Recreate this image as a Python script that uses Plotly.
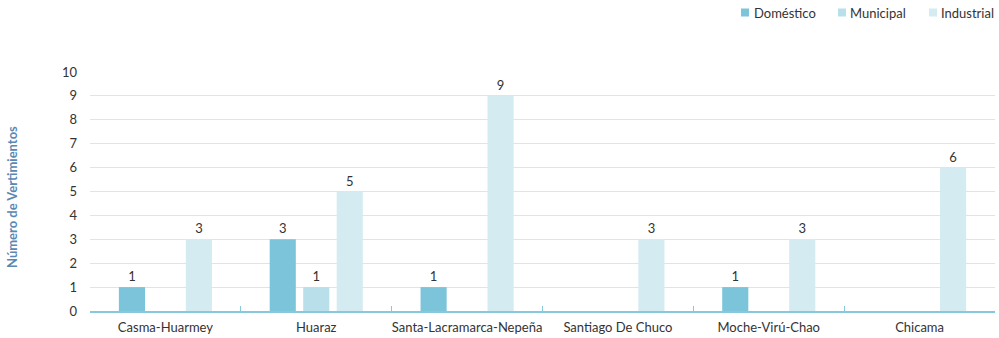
import plotly.graph_objects as go

categories = ["Casma-Huarmey", "Huaraz", "Santa-Lacramarca-Nepeña", "Santiago De Chuco", "Moche-Virú-Chao", "Chicama"]
domestico = [1, 3, 1, 0, 1, 0]
municipal = [0, 1, 0, 0, 0, 0]
industrial = [3, 5, 9, 3, 3, 6]
y_ticks = list(range(0, 11))
y_title = "Número de Vertimientos"

series = [
    ("Doméstico", domestico, "#7cc4d9"),
    ("Municipal", municipal, "#b9dfea"),
    ("Industrial", industrial, "#d5ebf2"),
]

FONT = "Lato, Noto Sans, sans-serif"

W, H = 999, 338
L, R, T, B = 90, 4, 72, 27
PW, PH = W - L - R, H - T - B

def px_x(x):  # screen x -> paper
    return (x - L) / PW

def px_y(y):  # screen y -> paper
    return (H - B - y) / PH

fig = go.Figure()
for name, vals, color in series:
    fig.add_trace(go.Bar(
        name=name, x=categories, y=[v if v else None for v in vals],
        marker=dict(color=color, line=dict(width=0)),
        text=[str(v) if v else "" for v in vals],
        textposition="outside", cliponaxis=False,
        textfont=dict(size=13, color="#333333"),
        showlegend=False,
    ))

# compact legend at top right
legend_pos = [(741, 752), (838, 848), (929, 939)]
for (name, _, color), (sx, tx) in zip(series, legend_pos):
    fig.add_shape(type="rect", xref="paper", yref="paper",
                  x0=px_x(sx), x1=px_x(sx + 8), y0=px_y(16.5), y1=px_y(8.5),
                  fillcolor=color, line=dict(width=0))
    fig.add_annotation(text=name, xref="paper", yref="paper", x=px_x(tx), y=px_y(13),
                       xanchor="left", yanchor="middle", showarrow=False,
                       font=dict(family=FONT, size=13, color="#333333"))

# y-axis title
fig.add_annotation(text=f"<b>{y_title}</b>", xref="paper", yref="paper",
                   x=px_x(12), y=px_y(197), xanchor="center", yanchor="middle",
                   textangle=-90, showarrow=False,
                   font=dict(family=FONT, size=13, color="#5b87b3"))

fig.update_layout(
    width=W, height=H,
    margin=dict(l=L, r=R, t=T, b=B, autoexpand=False),
    paper_bgcolor="white", plot_bgcolor="white",
    font=dict(family=FONT, size=13, color="#333333"),
    barmode="group", bargap=0.334, bargroupgap=0.22,
    showlegend=False,
)
fig.update_xaxes(
    automargin=False, tickangle=0,
    showline=True, linecolor="#86c8dc", linewidth=1.5,
    ticks="inside", ticklen=5, tickcolor="#86c8dc", tickson="boundaries",
    ticklabelstandoff=4,
    tickfont=dict(size=13, color="#333333"), showgrid=False,
)
fig.update_yaxes(
    automargin=False,
    range=[0, 10], tickvals=y_ticks, showgrid=True, gridcolor="#d3e9f0", gridwidth=1,
    zeroline=False, showline=False, ticks="", ticklabelstandoff=12,
    tickfont=dict(size=13, color="#333333"),
)
fig.write_html("out.html", config={"displayModeBar": False},
               post_script="document.body.style.margin='0px';document.body.style.overflow='hidden';")
